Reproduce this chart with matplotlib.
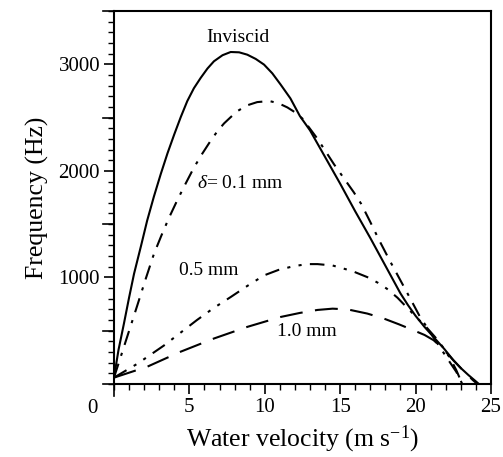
import matplotlib
matplotlib.use("Agg")
from matplotlib import pyplot as plt
from matplotlib.ticker import MultipleLocator, FixedLocator
import matplotlib.transforms as mtransforms

plt.rcParams["font.family"] = ["Liberation Serif", "DejaVu Serif"]
plt.rcParams["mathtext.fontset"] = "custom"
plt.rcParams["mathtext.rm"] = "Liberation Serif"
plt.rcParams["mathtext.it"] = "Liberation Serif:italic"

# velocity (m/s) and frequency (Hz) for each curve
inviscid_v = [0, 0.3, 0.66, 1.0, 1.33, 1.8, 2.2, 2.65, 3.1, 3.55, 4.0, 4.43, 4.86,
              5.3, 5.75, 6.2, 6.63, 7.2, 7.74, 8.3, 8.84, 9.4, 9.95, 10.5, 11.05,
              11.7, 12.33, 13.0, 14.0, 15.0, 16.0, 17.0, 18.0, 19.0, 19.5, 20.0,
              20.6, 21.2, 21.9, 22.5, 23.0, 23.5, 24.0, 24.2]
inviscid_f = [60, 320, 567, 810, 1034, 1300, 1533, 1760, 1969, 2165, 2343, 2505, 2654,
              2775, 2872, 2960, 3028, 3085, 3115, 3112, 3090, 3050, 2997, 2915, 2810,
              2680, 2514, 2380, 2130, 1880, 1620, 1370, 1110, 850, 740, 640,
              535, 440, 330, 225, 150, 85, 25, 0]

d01_v = [0, 0.66, 1.55, 2.1, 2.65, 3.15, 3.65, 4.2, 4.75, 5.3, 5.85, 6.4, 6.85, 7.3,
         7.75, 8.18, 8.84, 9.5, 10.3, 10.9, 11.5, 12.0, 12.5, 13.5, 14.6, 15.9,
         16.4, 17.0, 17.6, 18.3, 19.0, 19.6, 20.3, 21.0, 21.6, 22.2, 22.7, 23.1]
d01_f = [60, 349, 739, 985, 1221, 1395, 1560, 1725, 1880, 2030, 2160, 2280, 2370, 2445,
         2505, 2560, 2615, 2645, 2655, 2635, 2595, 2550, 2490, 2300, 2060, 1800,
         1689, 1520, 1346, 1155, 972, 815, 629, 480, 349, 220, 115, 0]

d05_v = [0, 1.55, 3.3, 4.4, 5.5, 6.6, 7.74, 8.84, 9.95, 10.9, 11.9, 12.8, 13.5,
         14.5, 15.8, 16.8, 17.5, 18.1, 18.8, 19.4, 20.1, 20.7, 21.3, 21.8, 22.3,
         22.7, 23.1]
d05_f = [60, 190, 360, 480, 600, 712, 816, 920, 1019, 1070, 1105, 1125, 1125,
         1112, 1060, 1003, 950, 894, 810, 722, 620, 536, 440, 349, 240,
         131, 0]

d10_v = [0, 2.2, 4.4, 6.63, 8.84, 11.05, 12.33, 13.5, 14.5, 15.5, 16.8, 17.9,
         18.9, 19.85, 20.6, 21.2, 21.9, 22.5, 23.2, 23.8, 24.1]
d10_f = [60, 162, 302, 427, 536, 629, 667, 695, 707, 700, 661, 614,
         560, 505, 460, 411, 320, 224, 120, 37, 0]

x_labels = [5, 10, 15, 20, 25]
y_labels = [1000, 2000, 3000]

fig = plt.figure(figsize=(5.03, 4.57), dpi=100)
ax = fig.add_axes([0.2266, 0.1597, 0.7494, 0.8163])

lw = 1.5
ax.plot(inviscid_v, inviscid_f, color="black", lw=lw, ls="-")
ax.plot(d01_v, d01_f, color="black", lw=lw, ls=(0, (7, 4, 1.5, 4)))
ax.plot(d05_v, d05_f, color="black", lw=lw, ls=(0, (7, 4, 1.5, 4, 1.5, 4)))
ax.plot(d10_v, d10_f, color="black", lw=lw, ls=(0, (11, 6)))

ax.set_xlim(0, 25)
ax.set_ylim(0, 3500)

for s in ax.spines.values():
    s.set_linewidth(1.5)

ax.xaxis.set_major_locator(FixedLocator(x_labels))
ax.xaxis.set_minor_locator(MultipleLocator(1))
ax.yaxis.set_major_locator(FixedLocator(y_labels))
ax.yaxis.set_minor_locator(MultipleLocator(100))
ax.tick_params(which="major", direction="out", length=7, width=1.2,
               labelsize=15, pad=3)
ax.tick_params(which="minor", direction="out", length=4, width=1.0)

# longer unlabeled ticks at the half-thousands and both ends of the y axis
for y in [0, 500, 1500, 2500, 3500]:
    ax.plot([-0.75, 0], [y, y], color="black", lw=1.2, clip_on=False)
ax.plot([0, 0], [0, -110], color="black", lw=1.2, clip_on=False)

# shared origin label
trans = mtransforms.blended_transform_factory(ax.transData, ax.transAxes)
ax.text(-1.45, -0.066, "0", transform=trans, ha="center", va="center", fontsize=15)

ax.set_xlabel("Water velocity (m s$^{-1}$)", fontsize=18.5, labelpad=5)
ax.set_ylabel("Frequency (Hz)", fontsize=18.5, labelpad=7)

ax.text(8.2, 3250, "Inviscid", ha="center", va="center", fontsize=14)
ax.text(5.5, 1880, r"$\it{\delta}$= 0.1 mm", ha="left", va="center", fontsize=14)
ax.text(4.3, 1065, "0.5 mm", ha="left", va="center", fontsize=14)
ax.text(10.8, 489, "1.0 mm", ha="left", va="center", fontsize=14)

fig.savefig("out.png", dpi=100)
